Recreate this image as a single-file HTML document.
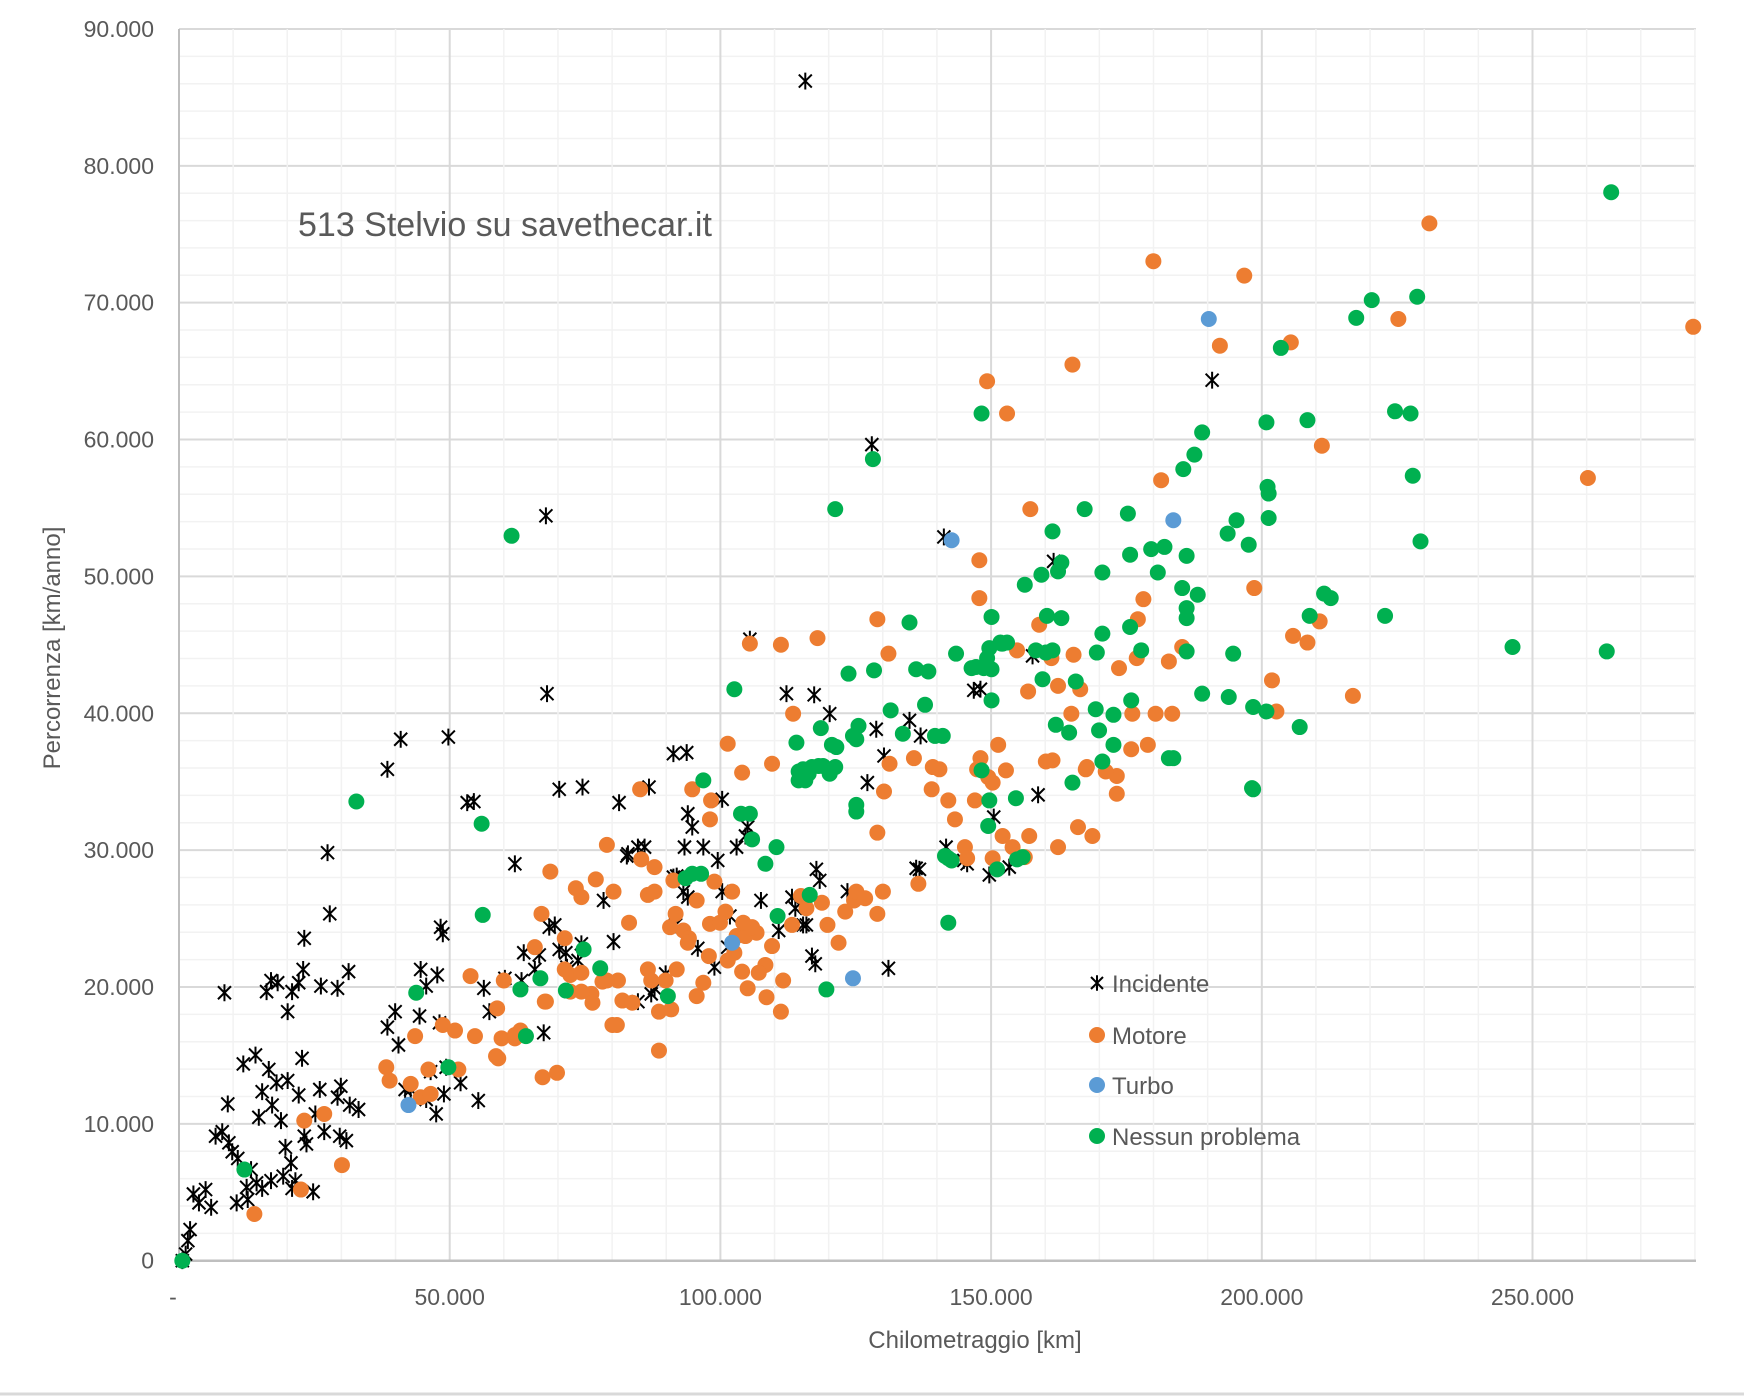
<!DOCTYPE html>
<html><head><meta charset="utf-8"><style>
html,body{margin:0;padding:0;background:#fff;width:1744px;height:1396px;overflow:hidden}
svg text{font-family:"Liberation Sans",sans-serif;fill:#595959}
</style></head><body>
<svg id="s" width="1744" height="1396" viewBox="0 0 1744 1396" xmlns="http://www.w3.org/2000/svg">
<g id="grid"></g>
<g id="pts"></g>
<text x="298" y="236" font-size="34">513 Stelvio su savethecar.it</text>
<text x="975" y="1348" font-size="24" text-anchor="middle">Chilometraggio [km]</text>
<text transform="translate(60,648) rotate(-90)" font-size="24" text-anchor="middle">Percorrenza [km/anno]</text>
<g id="leg" font-size="24">
<text x="1112" y="992">Incidente</text>
<text x="1112" y="1044">Motore</text>
<text x="1112" y="1094">Turbo</text>
<text x="1112" y="1145">Nessun problema</text>
</g>
<line x1="0" y1="1394" x2="1744" y2="1394" stroke="#d9d9d9" stroke-width="3"/>
</svg>
<script>
var NS="http://www.w3.org/2000/svg",s=document.getElementById('s'),g=document.getElementById('grid'),P=document.getElementById('pts');
function el(p,t,a){var e=document.createElementNS(NS,t);for(var k in a)e.setAttribute(k,a[k]);p.appendChild(e);return e;}
var X0=179,Y0=1260.7,XS=270.7/50000,YS=136.86/10000,XR=1696;
for(var v=2000;v<=90000;v+=2000){var y=Y0-v*YS;el(g,'line',{x1:X0,x2:XR,y1:y,y2:y,stroke:v%10000?'#f2f2f2':'#d9d9d9','stroke-width':v%10000?1.5:2});}
for(var v=10000;v<=280000;v+=10000){var x=X0+v*XS;if(x>XR+1)break;el(g,'line',{x1:x,x2:x,y1:29,y2:Y0,stroke:v%50000?'#f2f2f2':'#d9d9d9','stroke-width':v%50000?1.5:2});}
el(g,'line',{x1:X0,x2:X0,y1:29,y2:Y0,stroke:'#bfbfbf','stroke-width':2});
el(g,'line',{x1:X0,x2:XR,y1:Y0,y2:Y0,stroke:'#bfbfbf','stroke-width':2.5});
for(var v=0;v<=90000;v+=10000){var t=el(s,'text',{x:154,y:Y0-v*YS+8,'font-size':23,'text-anchor':'end'});t.textContent=v?(v/1000).toFixed(3):'0';}
for(var v=0;v<=250000;v+=50000){var t=el(s,'text',{x:X0+v*XS-(v?0:6),y:1305,'font-size':23,'text-anchor':'middle'});t.textContent=v?(v/1000).toFixed(3):'-';}
function tx(p){return [179+(p[0]-157)*1.1085,1260.7-(1132-p[1])*1.1118];}
function star(par,x,y,r){el(par,'path',{d:'M'+(x-r)+' '+(y-r)+'L'+(x+r)+' '+(y+r)+'M'+(x+r)+' '+(y-r)+'L'+(x-r)+' '+(y+r)+'M'+x+' '+(y-r*1.3)+'L'+x+' '+(y+r*1.3),stroke:'#000','stroke-width':2,fill:'none'});}
var inc=[[722,71],[1089,340],[782,398],[488,462],[489,622],[847,481],[946,503],[672,573],[705,622],[730,623],[744,640],[345,690],[357,663],[400,661],[417,720],[423,719],[500,708],[521,706],[554,720],[581,706],[603,676],[615,675],[616,730],[620,742],[647,717],[786,654],[793,678],[778,702],[816,646],[826,660],[874,619],[927,588],[932,713],[892,733],[849,760],[822,779],[825,780],[868,775],[865,772],[291,765],[293,820],[270,842],[269,870],[285,885],[300,887],[310,872],[255,908],[265,882],[259,890],[240,880],[246,882],[198,891],[236,890],[460,775],[571,760],[561,768],[577,760],[603,787],[606,786],[613,760],[630,760],[643,772],[670,742],[668,750],[660,760],[647,800],[682,808],[698,835],[710,805],[713,815],[720,830],[732,780],[735,790],[723,830],[760,800],[797,869],[491,832],[496,830],[500,852],[540,808],[549,845],[520,847],[506,855],[507,868],[517,862],[482,857],[468,855],[478,870],[466,880],[451,878],[432,887],[437,908],[375,870],[380,885],[390,875],[393,832],[395,838],[352,908],[345,922],[355,938],[374,912],[392,918],[411,972],[427,988],[398,958],[384,962],[366,978],[380,987],[389,1000],[396,982],[361,978],[319,996],[311,992],[303,975],[300,985],[308,1024],[302,1020],[284,978],[280,1000],[288,1016],[278,1070],[265,983],[270,1020],[272,1027],[268,950],[255,970],[241,992],[245,972],[232,980],[238,960],[226,947],[215,955],[196,1016],[201,991],[205,1034],[190,1020],[202,1026],[210,1040],[222,1050],[227,1062],[218,1066],[232,1067],[240,1060],[251,1056],[259,1067],[262,1060],[175,1080],[181,1068],[170,1072],[186,1084],[167,1104],[165,1114],[163,1126],[160,1132],[219,1077],[209,1080],[229,1003],[249,1006],[253,1030],[258,1044],[486,927],[640,868],[652,850],[654,822],[612,800],[616,805],[586,887],[571,899],[596,874],[583,892],[728,858],[731,865],[562,766],[605,830],[625,851],[880,618],[906,778],[888,785]];
var mot=[[1285,199],[1036,233],[1118,246],[886,341],[963,326],[904,370],[1160,306],[1096,309],[1257,285],[1523,292],[1188,399],[1428,428],[1043,430],[925,456],[879,502],[879,536],[787,555],[797,586],[672,577],[700,578],[733,572],[711,640],[692,685],[665,693],[652,667],[637,718],[636,735],[573,708],[574,771],[543,758],[586,778],[620,708],[580,803],[563,828],[520,805],[515,797],[492,782],[484,820],[478,850],[450,880],[444,905],[420,876],[424,930],[445,950],[465,925],[460,932],[485,967],[488,899],[498,963],[548,920],[553,880],[539,881],[557,898],[580,870],[596,880],[590,908],[601,906],[624,894],[630,882],[635,858],[652,862],[660,840],[668,840],[678,837],[686,866],[680,873],[692,849],[702,880],[710,830],[718,804],[723,815],[737,810],[742,830],[752,846],[758,818],[766,808],[768,800],[776,806],[787,820],[792,800],[787,747],[793,710],[798,685],[820,680],[824,793],[837,688],[836,708],[843,690],[851,718],[857,735],[866,760],[868,770],[875,718],[877,690],[880,680],[887,697],[891,702],[896,668],[903,691],[909,760],[920,769],[891,770],[913,583],[923,620],[933,560],[944,590],[950,615],[964,587],[970,618],[976,688],[962,640],[1005,599],[1021,590],[1022,555],[1027,537],[1050,593],[1062,580],[1038,640],[1053,640],[1031,668],[1003,712],[1003,696],[993,692],[975,690],[945,682],[900,750],[1127,527],[1147,638],[1175,576],[1216,624],[981,750],[700,908],[687,895],[590,943],[636,829],[612,835],[606,870],[674,832],[666,828],[640,791],[624,808],[670,887],[617,842],[665,872],[658,855],[656,800],[549,800],[533,789],[505,842],[505,870],[510,875],[510,890],[529,892],[543,880],[552,920],[566,900],[520,873],[448,932],[443,948],[460,929],[375,985],[366,973],[384,982],[382,960],[370,930],[347,970],[344,958],[288,1000],[270,1006],[267,1068],[304,1046],[225,1090],[409,960],[395,920],[406,925],[487,899],[520,890],[530,900],[650,818],[645,828],[600,832],[605,820],[616,846],[583,880],[603,790],[586,800],[1016,672],[1017,640],[939,683],[924,750],[968,742],[950,760],[1162,570],[1143,610],[1186,557]];
var tur=[[1086,285],[854,484],[1054,466],[656,846],[765,878],[364,992]];
var gre=[[1449,171],[1233,268],[1274,265],[1219,284],[1151,311],[1254,368],[1268,370],[1138,378],[1175,376],[1080,387],[1073,407],[1063,420],[1270,426],[1140,442],[1139,436],[974,456],[1013,460],[945,476],[1111,466],[1140,464],[1103,478],[1122,488],[1277,485],[1046,490],[1034,492],[953,504],[950,512],[1015,497],[1066,498],[920,524],[935,515],[990,513],[1040,513],[1062,527],[1076,533],[1190,532],[1196,536],[1177,552],[1245,552],[890,553],[940,552],[953,554],[1066,545],[1066,554],[1108,586],[1066,584],[1025,583],[1015,562],[990,568],[985,585],[939,585],[930,583],[945,583],[899,577],[886,590],[888,581],[858,586],[876,598],[872,599],[883,599],[900,577],[898,576],[904,576],[890,600],[822,600],[833,602],[816,558],[784,601],[761,604],[890,628],[948,650],[936,609],[966,611],[1016,628],[1000,641],[984,636],[1080,622],[1104,625],[1126,634],[1138,638],[1168,652],[1125,707],[987,655],[960,657],[1000,668],[1054,680],[990,683],[963,702],[912,716],[888,718],[881,691],[887,741],[839,660],[830,632],[846,660],[810,658],[799,637],[770,651],[768,663],[765,660],[746,668],[749,688],[744,694],[738,687],[734,687],[728,688],[720,690],[723,695],[716,692],[714,666],[736,653],[750,670],[725,694],[722,700],[716,700],[630,700],[658,618],[672,730],[664,730],[674,753],[686,775],[696,760],[697,822],[726,803],[768,722],[768,728],[848,768],[851,770],[854,772],[895,780],[918,769],[851,828],[741,888],[628,784],[620,784],[614,788],[598,894],[537,869],[522,852],[506,889],[483,878],[465,888],[470,930],[430,739],[431,821],[400,958],[371,891],[317,719],[457,480],[749,456],[783,411],[881,370],[216,1050],[160,1132],[1360,580],[1445,584],[1126,708],[1050,680],[913,771]];
inc.forEach(function(p){var q=tx(p);star(P,q[0],q[1],6.5);});
mot.forEach(function(p){var q=tx(p);el(P,'circle',{cx:q[0],cy:q[1],r:8,fill:'#ED7D31'});});
tur.forEach(function(p){var q=tx(p);el(P,'circle',{cx:q[0],cy:q[1],r:8,fill:'#5B9BD5'});});
gre.forEach(function(p){var q=tx(p);el(P,'circle',{cx:q[0],cy:q[1],r:8,fill:'#00B050'});});
var L=document.getElementById('leg');
star(L,1097,983,6);
el(L,'circle',{cx:1097,cy:1035,r:8,fill:'#ED7D31'});
el(L,'circle',{cx:1097,cy:1085,r:8,fill:'#5B9BD5'});
el(L,'circle',{cx:1097,cy:1136,r:8,fill:'#00B050'});
</script>
</body></html>
